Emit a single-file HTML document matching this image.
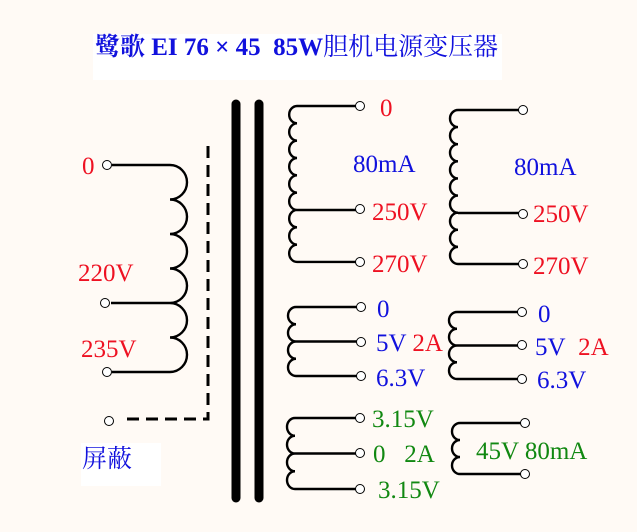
<!DOCTYPE html>
<html><head><meta charset="utf-8"><style>
body{margin:0;background:#fffaf5;}
svg{display:block}
text{font-family:"Liberation Serif","Noto Serif CJK SC",serif;font-size:25px}
.r{fill:#ee1122}.b{fill:#1111dd}.g{fill:#118811}
</style></head><body>
<svg width="637" height="532" viewBox="0 0 637 532">
<rect width="637" height="532" fill="#fffaf5"/>
<rect x="93" y="34" width="409" height="46" fill="#fff"/>
<text x="95" y="55" style="font-size:25px;font-weight:bold;font-family:'Liberation Serif','Noto Serif CJK SC','Noto Sans CJK SC',serif" fill="#1111dd">鹭歌 EI 76 × 45&#160; 85W<tspan font-weight="normal">胆机电源变压器</tspan></text>
<rect x="81" y="443" width="80" height="43" fill="#fff"/>
<text x="82" y="467" style="font-size:25px;font-family:'Noto Serif CJK SC','Noto Sans CJK SC',serif" fill="#1111dd">屏蔽</text>
<g stroke="#000" stroke-linecap="round">
<line x1="236" y1="104" x2="236" y2="498" stroke-width="9"/>
<line x1="259" y1="104" x2="259" y2="498" stroke-width="9"/>
</g>
<g fill="none" stroke="#000" stroke-width="2.4">
<path d="M208 146 V419 H121" stroke-width="3" stroke-dasharray="12 7"/>
<path d="M112 165 H170 a17 17.25 0 0 1 0 34.5 a17 17.25 0 0 1 0 34.5 a17 17.25 0 0 1 0 34.5 a17 17.25 0 0 1 0 34.5 a17 17.25 0 0 1 0 34.5 a17 17.25 0 0 1 0 34.5 H112 M111 303 H170"/>
<path d="M356 106 H297 a8 8.667 0 0 0 0 17.33 a8 8.667 0 0 0 0 17.33 a8 8.667 0 0 0 0 17.33 a8 8.667 0 0 0 0 17.33 a8 8.667 0 0 0 0 17.33 a8 8.667 0 0 0 0 17.33 a8 8.667 0 0 0 0 17.33 a8 8.667 0 0 0 0 17.33 a8 8.667 0 0 0 0 17.33 H356 M297 210 H356"/>
<path d="M519 110 H458 a8 8.555 0 0 0 0 17.11 a8 8.555 0 0 0 0 17.11 a8 8.555 0 0 0 0 17.11 a8 8.555 0 0 0 0 17.11 a8 8.555 0 0 0 0 17.11 a8 8.555 0 0 0 0 17.11 a8 8.555 0 0 0 0 17.11 a8 8.555 0 0 0 0 17.11 a8 8.555 0 0 0 0 17.11 H519 M458 213 H519"/>
<path d="M357 307 H296 a8 8.625 0 0 0 0 17.25 a8 8.625 0 0 0 0 17.25 a8 8.625 0 0 0 0 17.25 a8 8.625 0 0 0 0 17.25 H357 M296 341.5 H357"/>
<path d="M518 312 H457 a8 8.375 0 0 0 0 16.75 a8 8.375 0 0 0 0 16.75 a8 8.375 0 0 0 0 16.75 a8 8.375 0 0 0 0 16.75 H518 M457 345.5 H518"/>
<path d="M356 418 H295 a8 8.875 0 0 0 0 17.75 a8 8.875 0 0 0 0 17.75 a8 8.875 0 0 0 0 17.75 a8 8.875 0 0 0 0 17.75 H356 M295 453.5 H356"/>
<path d="M521 423 H460 a8 8.5 0 0 0 0 17 a8 8.5 0 0 0 0 17 a8 8.5 0 0 0 0 17 H521"/>
</g>
<g fill="#fff" stroke="#000" stroke-width="1">
<circle cx="107" cy="165" r="4.5"/><circle cx="105" cy="303" r="4.5"/><circle cx="107" cy="372" r="4.5"/><circle cx="109" cy="421" r="4.5"/>
<circle cx="360" cy="106" r="4.5"/><circle cx="360" cy="209" r="4.5"/><circle cx="360" cy="262" r="4.5"/>
<circle cx="523" cy="110" r="4.5"/><circle cx="523" cy="214" r="4.5"/><circle cx="523" cy="264" r="4.5"/>
<circle cx="361" cy="307" r="4.5"/><circle cx="361" cy="342" r="4.5"/><circle cx="361" cy="376" r="4.5"/>
<circle cx="522" cy="312" r="4.5"/><circle cx="522" cy="345" r="4.5"/><circle cx="522" cy="379" r="4.5"/>
<circle cx="360" cy="418" r="4.5"/><circle cx="360" cy="453" r="4.5"/><circle cx="360" cy="489" r="4.5"/>
<circle cx="525" cy="423" r="4.5"/><circle cx="525" cy="474" r="4.5"/>
</g>
<text class="r" x="82" y="174">0</text>
<text class="r" x="78" y="281">220V</text>
<text class="r" x="81" y="357">235V</text>
<text class="r" x="380" y="116">0</text>
<text class="b" x="353" y="172">80mA</text>
<text class="r" x="372" y="220">250V</text>
<text class="r" x="372" y="272">270V</text>
<text class="b" x="514" y="175">80mA</text>
<text class="r" x="533" y="222">250V</text>
<text class="r" x="533" y="274">270V</text>
<text class="b" x="377" y="317">0</text>
<text class="b" x="376" y="351">5V <tspan class="r">2A</tspan></text>
<text class="b" x="376" y="386">6.3V</text>
<text class="b" x="538" y="322">0</text>
<text class="b" x="535" y="355">5V&#160; <tspan class="r">2A</tspan></text>
<text class="b" x="537" y="388">6.3V</text>
<text class="g" x="372" y="427">3.15V</text>
<text class="g" x="373" y="462">0&#160;&#160; 2A</text>
<text class="g" x="378" y="498">3.15V</text>
<text class="g" x="476" y="459">45V 80mA</text>
</svg>
</body></html>
